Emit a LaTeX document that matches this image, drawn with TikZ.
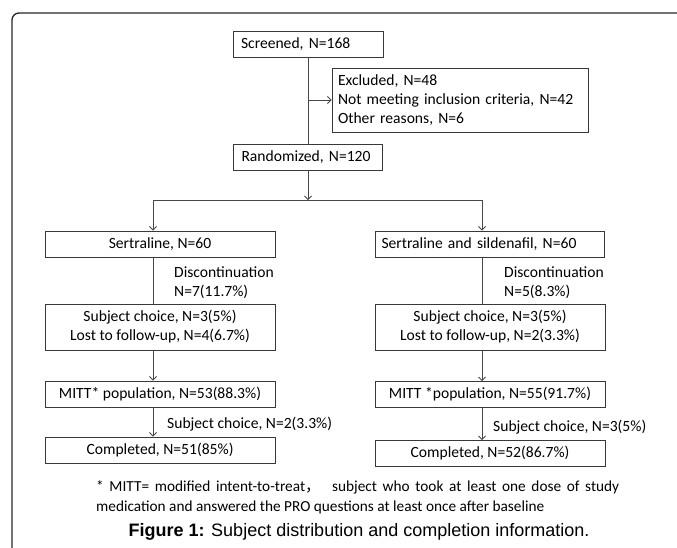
\documentclass[tikz,border=0pt]{standalone}
\usepackage{fontspec}
\setmainfont{Carlito}
\newfontfamily\capfont{Liberation Sans}
\newfontfamily\cjkfont{Noto Sans CJK SC}
\usetikzlibrary{arrows.meta}
\begin{document}
\begin{tikzpicture}[x=1pt,y=-1pt,
  font=\fontsize{15.6}{19}\selectfont,
  box/.style={draw=black!78, line width=0.9pt, inner sep=0pt, minimum height=26pt, text=black},
  conn/.style={draw=black!72, line width=0.8pt},
  arr/.style={conn, -{Straight Barb[length=3.5pt,width=7pt]}},
  lbl/.style={anchor=west, inner sep=0pt, align=left, text=black},
]
\useasboundingbox (0,0) rectangle (677,547);
\clip (0,0) rectangle (677,547);
\draw[line width=1.3pt, black!85, rounded corners=7pt] (12,13) rectangle (720,580);

% top part
\node[box, text width=134pt, inner xsep=8pt, align=left] (scr) at (308,44) {Screened, N=168};
\node[box, text width=244pt, inner xsep=6pt, minimum height=64pt, align=left] (exc) at (460,100)
  {Excluded, N=48\\Not meeting inclusion criteria, N=42\\Other reasons, N=6};
\node[box, text width=133pt, inner xsep=8pt, align=left] (rnd) at (308,157) {Randomized, N=120};
\coordinate (j1) at (308,100);
\coordinate (split) at (308,200);
\coordinate (cl) at (153,200);
\coordinate (cr) at (482,200);

% arms
\node[box, minimum width=230pt, align=center] (serL) at (160,244) {Sertraline, N=60};
\node[box, text width=217pt, inner xsep=6pt, align=left] (serR) at (490,244) {Sertraline and sildenafil, N=60};
\node[box, minimum width=230pt, minimum height=46pt, align=center] (subL) at (160,327)
  {Subject choice, N=3(5\%)\\Lost to follow-up, N=4(6.7\%)};
\node[box, minimum width=230pt, minimum height=46pt, align=center] (subR) at (490,327)
  {Subject choice, N=3(5\%)\\Lost to follow-up, N=2(3.3\%)};
\node[box, minimum width=230pt, align=center] (mitL) at (160,394) {MITT* population, N=53(88.3\%)};
\node[box, minimum width=230pt, align=center] (mitR) at (490,394.5) {MITT *population, N=55(91.7\%)};
\node[box, minimum width=230pt, align=center] (cmpL) at (160,450) {Completed, N=51(85\%)};
\node[box, minimum width=230pt, align=center] (cmpR) at (490,453.5) {Completed, N=52(86.7\%)};

\node[lbl] (disL) at (174,283) {Discontinuation\\N=7(11.7\%)};
\node[lbl] (disR) at (504,283) {Discontinuation\\N=5(8.3\%)};
\node[lbl] (scL) at (167,424) {Subject choice, N=2(3.3\%)};
\node[lbl] (scR) at (493,427) {Subject choice, N=3(5\%)};

% connectors
\draw[conn] (scr.south) -- (rnd.north);
\draw[arr] (j1) -- (exc.west);
\draw[arr] (rnd.south) -- (split);
\draw[conn] (cl) -- (cr);
\draw[arr] (cl) -- (cl |- serL.north);
\draw[arr] (cr) -- (cr |- serR.north);
\draw[conn] (serL.south -| cl) -- (subL.north -| cl);
\draw[conn] (serR.south -| cr) -- (subR.north -| cr);
\draw[arr] (subL.south -| cl) -- (mitL.north -| cl);
\draw[arr] (subR.south -| cr) -- (mitR.north -| cr);
\draw[arr] (mitL.south -| cl) -- (cmpL.north -| cl);
\draw[arr] (mitR.south -| cr) -- (cmpR.north -| cr);

% footnote and caption
\node[anchor=west, inner sep=0pt, align=left, text=black, font=\fontsize{15.3}{20}\selectfont] (foot) at (96,497)
  {\makebox[523pt][s]{* MITT= modified intent-to-treat{\cjkfont ，}\hspace{6pt} subject who took at least one dose of study}\\
   medication and answered the PRO questions at least once after baseline};
\node[inner sep=0pt, text=black, font=\capfont\fontsize{18}{20}\selectfont] (cap) at (359,532)
  {\textbf{Figure 1:} Subject distribution and completion information.};
\end{tikzpicture}
\end{document}
